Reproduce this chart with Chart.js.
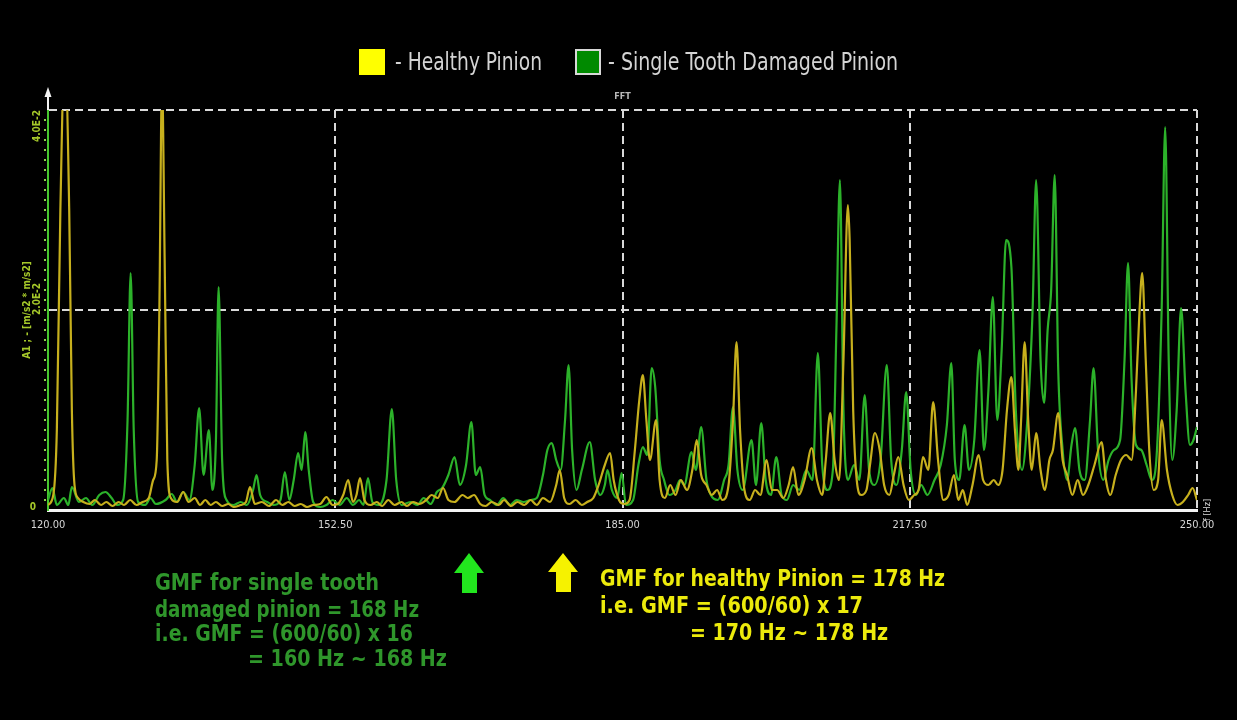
<!DOCTYPE html>
<html>
<head>
<meta charset="utf-8">
<title>FFT - Healthy vs Single Tooth Damaged Pinion</title>
<script src="https://cdn.jsdelivr.net/npm/chart.js@4.4.1/dist/chart.umd.min.js"></script>
<style>
  html, body { margin: 0; padding: 0; background: #000; }
  #wrap { position: relative; width: 1237px; height: 720px; background: #000; overflow: hidden; }
  #wrap canvas { position: absolute; left: 0; top: 0; }
  .narrow { font-family: 'Liberation Sans Narrow', 'DejaVu Sans Condensed', 'Roboto', sans-serif; }
  .lg-box { position: absolute; top: 49px; width: 26px; height: 26px; box-sizing: border-box; }
  .lg-txt { position: absolute; top: 49px; height: 26px; line-height: 26px; font-size: 25px; color: #d4d4d4;
            white-space: nowrap; transform-origin: 0 50%; }
  .note { position: absolute; height: 26px; line-height: 26px; font-size: 23px; font-weight: bold;
          white-space: nowrap; transform-origin: 0 50%; }
  .green { color: #2f962b; }
  .yellow { color: #ecea0c; }
  svg.arrows { position: absolute; left: 0; top: 0; }
</style>
</head>
<body>
<div id="wrap">
  <canvas id="fft" width="1237" height="720"></canvas>

  <!-- legend -->
  <div class="lg-box" style="left:359px;background:#ffff00;"></div>
  <div class="lg-txt narrow" data-w="147" style="left:395px;">- Healthy Pinion</div>
  <div class="lg-box" style="left:575px;background:#008a00;border:2px solid #d8d8d8;"></div>
  <div class="lg-txt narrow" data-w="290" style="left:608px;">- Single Tooth Damaged Pinion</div>

  <!-- gear-mesh-frequency arrows -->
  <svg class="arrows" width="1237" height="720">
    <polygon points="469,553 484,573 477,573 477,593 462,593 462,573 454,573" fill="#22e61e"/>
    <polygon points="563,553 578,572 571,572 571,592 556,592 556,572 548,572" fill="#f6f200"/>
  </svg>

  <!-- notes -->
  <div class="note narrow green" data-w="224" style="left:155px;top:569px;">GMF for single tooth</div>
  <div class="note narrow green" data-w="264" style="left:155px;top:596px;">damaged pinion = 168 Hz</div>
  <div class="note narrow green" data-w="258" style="left:155px;top:620px;">i.e. GMF = (600/60) x 16</div>
  <div class="note narrow green" data-w="199" style="left:248px;top:645px;">= 160 Hz ~ 168 Hz</div>

  <div class="note narrow yellow" data-w="345" style="left:600px;top:565px;">GMF for healthy Pinion = 178 Hz</div>
  <div class="note narrow yellow" data-w="263" style="left:600px;top:592px;">i.e. GMF = (600/60) x 17</div>
  <div class="note narrow yellow" data-w="198" style="left:690px;top:619px;">= 170 Hz ~ 178 Hz</div>
</div>

<script>
// Spectrum of the healthy pinion: frequency [Hz] and amplitude [x1E-2 (m/s2)^2]
const healthyHz = [
  120.0, 120.6, 121.0, 121.4, 121.9, 122.4, 122.7, 123.0, 123.4, 124.0,
  124.7, 125.3, 126.0, 126.6, 127.3, 128.0, 128.6, 129.3, 130.0, 130.7,
  131.4, 131.9, 132.3, 132.6, 132.9, 133.2, 133.5, 133.9, 134.6, 135.3,
  135.9, 136.6, 137.2, 137.8, 138.4, 139.0, 139.7, 140.4, 141.0, 141.8,
  142.4, 142.85, 143.4, 144.2, 145.0, 145.8, 146.5, 147.2, 147.9, 148.6,
  149.3, 150.0, 150.8, 151.5, 152.2, 152.8, 153.4, 153.97, 154.5, 154.9,
  155.3, 155.8, 156.5, 157.2, 157.8, 158.5, 159.2, 160.0, 160.6, 161.3,
  162.0, 162.8, 163.4, 164.1, 164.7, 165.3, 166.0, 166.9, 167.5, 168.2,
  168.9, 169.5, 170.2, 171.0, 171.6, 172.4, 173.1, 173.9, 174.6, 175.3,
  176.0, 176.8, 177.5, 177.9, 178.4, 179.0, 179.7, 180.4, 181.0, 181.7,
  182.3, 183.0, 183.6, 184.0, 184.6, 185.2, 185.8, 186.4, 186.9, 187.3,
  187.7, 188.1, 188.8, 189.2, 189.8, 190.4, 191.0, 191.6, 192.3, 192.9,
  193.4, 193.9, 194.5, 195.1, 195.7, 196.3, 197.0, 197.5, 197.9, 198.3,
  198.8, 199.4, 200.0, 200.6, 201.3, 201.9, 202.5, 203.2, 203.8, 204.3,
  204.9, 205.6, 206.4, 207.0, 207.6, 208.0, 208.5, 209.0, 209.5, 210.0,
  210.5, 210.7, 211.1, 211.5, 212.0, 212.6, 213.0, 213.55, 214.1, 214.6,
  215.2, 215.7, 216.2, 216.8, 217.4, 218.0, 218.5, 219.0, 219.6, 220.15,
  220.7, 221.3, 221.9, 222.5, 223.0, 223.5, 224.0, 224.6, 225.3, 225.8,
  226.4, 227.0, 227.5, 228.0, 228.5, 229.0, 229.4, 229.8, 230.1, 230.5,
  230.9, 231.3, 231.8, 232.3, 232.8, 233.3, 233.7, 234.3, 234.8, 235.3,
  235.9, 236.5, 237.1, 237.7, 238.4, 239.2, 239.7, 240.2, 240.8, 241.4,
  242.0, 242.6, 243.1, 243.5, 243.8, 244.2, 244.6, 245.1, 245.6, 246.0,
  246.6, 247.2, 247.8, 248.4, 249.0, 249.5, 250.0
];
const healthyAmp = [
  0.05, 0.15, 0.80, 3.00, 4.60, 3.00, 1.00, 0.25, 0.12, 0.08,
  0.06, 0.10, 0.05, 0.08, 0.04, 0.08, 0.05, 0.10, 0.05, 0.08,
  0.12, 0.30, 0.50, 2.00, 4.30, 2.50, 0.50, 0.12, 0.08, 0.18,
  0.08, 0.12, 0.05, 0.10, 0.05, 0.08, 0.04, 0.06, 0.03, 0.05,
  0.08, 0.23, 0.06, 0.08, 0.04, 0.10, 0.05, 0.08, 0.04, 0.06,
  0.03, 0.05, 0.06, 0.13, 0.05, 0.06, 0.15, 0.30, 0.08, 0.15,
  0.32, 0.10, 0.05, 0.08, 0.04, 0.10, 0.05, 0.08, 0.04, 0.08,
  0.06, 0.10, 0.15, 0.12, 0.22, 0.10, 0.08, 0.15, 0.12, 0.15,
  0.06, 0.04, 0.08, 0.05, 0.10, 0.04, 0.08, 0.05, 0.10, 0.05,
  0.12, 0.08, 0.25, 0.40, 0.12, 0.06, 0.10, 0.05, 0.08, 0.12,
  0.25, 0.45, 0.57, 0.30, 0.10, 0.06, 0.10, 0.60, 1.10, 1.35,
  0.90, 0.50, 0.90, 0.30, 0.12, 0.25, 0.15, 0.30, 0.20, 0.40,
  0.70, 0.35, 0.25, 0.15, 0.20, 0.10, 0.25, 0.90, 1.68, 0.80,
  0.20, 0.10, 0.20, 0.15, 0.50, 0.20, 0.20, 0.12, 0.25, 0.43,
  0.15, 0.30, 0.62, 0.30, 0.15, 0.50, 0.97, 0.50, 0.30, 1.50,
  3.05, 2.70, 1.00, 0.30, 0.15, 0.20, 0.45, 0.77, 0.60, 0.25,
  0.15, 0.35, 0.53, 0.25, 0.10, 0.15, 0.20, 0.53, 0.40, 1.08,
  0.50, 0.10, 0.15, 0.35, 0.10, 0.20, 0.05, 0.25, 0.55, 0.30,
  0.25, 0.30, 0.25, 0.40, 1.00, 1.33, 0.80, 0.40, 0.90, 1.68,
  0.90, 0.40, 0.77, 0.40, 0.20, 0.50, 0.60, 0.97, 0.50, 0.35,
  0.15, 0.30, 0.15, 0.25, 0.45, 0.68, 0.30, 0.15, 0.35, 0.50,
  0.55, 0.50, 1.20, 2.00, 2.37, 1.50, 0.60, 0.20, 0.30, 0.90,
  0.40, 0.15, 0.05, 0.08, 0.15, 0.22, 0.10
];

// Spectrum of the pinion with a single damaged tooth
const damagedHz = [
  120.0, 120.5, 121.0, 121.8, 122.3, 122.7, 123.5, 124.3, 125.0, 125.8,
  126.5, 127.2, 127.8, 128.5, 129.0, 129.35, 129.7, 130.2, 131.0, 131.6,
  132.2, 133.3, 134.0, 134.6, 135.3, 136.0, 136.6, 137.1, 137.6, 138.2,
  138.6, 139.0, 139.3, 139.7, 140.2, 141.0, 141.8, 142.5, 143.2, 143.6,
  144.0, 144.8, 145.5, 146.3, 146.8, 147.3, 147.8, 148.3, 148.7, 149.1,
  149.5, 150.0, 150.8, 151.5, 152.2, 153.0, 153.8, 154.5, 155.2, 155.7,
  156.2, 156.7, 157.4, 158.3, 158.9, 159.4, 160.0, 161.0, 161.8, 162.5,
  163.3, 164.0, 164.6, 165.3, 166.0, 166.6, 167.3, 167.9, 168.4, 168.9,
  169.4, 170.0, 170.8, 171.5, 172.3, 173.0, 173.8, 174.6, 175.3, 176.0,
  176.5, 177.0, 177.5, 178.0, 178.5, 178.9, 179.3, 179.8, 180.4, 181.3,
  181.9, 182.5, 183.0, 183.3, 183.8, 184.4, 184.9, 185.4, 186.2, 186.8,
  187.3, 187.8, 188.3, 188.7, 189.2, 189.7, 190.3, 191.0, 191.5, 192.0,
  192.8, 193.3, 193.9, 194.5, 195.0, 195.8, 196.5, 197.0, 197.5, 198.0,
  198.6, 199.6, 200.1, 200.7, 201.2, 201.8, 202.4, 203.0, 203.6, 204.3,
  205.0, 205.8, 206.5, 207.1, 207.6, 208.2, 208.8, 209.2, 209.6, 210.0,
  210.5, 211.2, 211.8, 212.4, 212.9, 213.5, 214.2, 214.9, 215.4, 216.0,
  216.6, 217.1, 217.6, 218.2, 218.8, 219.5, 220.3, 221.0, 221.7, 222.2,
  222.6, 223.1, 223.7, 224.2, 224.8, 225.4, 225.9, 226.4, 226.9, 227.4,
  227.9, 228.4, 229.0, 229.5, 230.2, 230.8, 231.4, 231.8, 232.3, 232.7,
  233.1, 233.5, 233.9, 234.3, 234.8, 235.3, 235.8, 236.2, 236.7, 237.3,
  237.9, 238.3, 238.8, 239.4, 240.0, 240.6, 241.3, 241.8, 242.2, 242.6,
  243.1, 243.7, 244.3, 244.9, 245.4, 246.0, 246.4, 246.8, 247.2, 247.7,
  248.2, 248.7, 249.2, 249.6, 250.0
];
const damagedAmp = [
  0.10, 0.22, 0.05, 0.12, 0.05, 0.23, 0.08, 0.12, 0.05, 0.15,
  0.18, 0.12, 0.05, 0.10, 0.90, 2.37, 0.80, 0.08, 0.05, 0.12,
  0.06, 0.10, 0.16, 0.08, 0.18, 0.10, 0.45, 1.02, 0.35, 0.80,
  0.20, 0.70, 2.23, 0.50, 0.10, 0.05, 0.08, 0.05, 0.20, 0.35,
  0.15, 0.08, 0.05, 0.10, 0.38, 0.10, 0.30, 0.57, 0.40, 0.78,
  0.40, 0.08, 0.03, 0.05, 0.10, 0.05, 0.12, 0.05, 0.10, 0.05,
  0.32, 0.08, 0.05, 0.30, 1.01, 0.30, 0.05, 0.08, 0.05, 0.12,
  0.06, 0.18, 0.22, 0.35, 0.53, 0.25, 0.45, 0.88, 0.35, 0.43,
  0.15, 0.10, 0.05, 0.12, 0.05, 0.10, 0.08, 0.10, 0.12, 0.35,
  0.60, 0.67, 0.50, 0.40, 0.90, 1.45, 0.60, 0.20, 0.40, 0.68,
  0.30, 0.15, 0.25, 0.40, 0.20, 0.12, 0.37, 0.05, 0.10, 0.45,
  0.63, 0.55, 1.42, 1.23, 0.50, 0.30, 0.15, 0.20, 0.30, 0.25,
  0.58, 0.40, 0.83, 0.30, 0.15, 0.10, 0.30, 0.45, 1.03, 0.40,
  0.20, 0.70, 0.25, 0.87, 0.30, 0.15, 0.53, 0.15, 0.10, 0.25,
  0.20, 0.40, 0.30, 1.57, 0.45, 0.20, 0.40, 1.80, 3.30, 1.00,
  0.30, 0.45, 0.30, 1.15, 0.40, 0.25, 0.50, 1.45, 0.50, 0.25,
  0.60, 1.18, 0.40, 0.15, 0.25, 0.15, 0.30, 0.45, 0.85, 1.47,
  0.50, 0.30, 0.85, 0.40, 0.70, 1.60, 0.60, 1.20, 2.13, 0.90,
  1.60, 2.70, 2.43, 1.00, 0.40, 0.90, 2.00, 3.30, 1.50, 1.07,
  1.80, 2.20, 3.35, 1.40, 0.60, 0.30, 0.65, 0.82, 0.40, 0.30,
  0.90, 1.42, 0.60, 0.30, 0.50, 0.60, 0.70, 1.50, 2.47, 1.30,
  0.65, 0.60, 0.45, 0.30, 0.50, 2.00, 3.83, 1.50, 0.50, 1.00,
  2.02, 1.20, 0.65, 0.70, 0.83
];

// Axis ticks
const freqTicks = [120, 152.5, 185, 217.5, 250];
const ampTicks = [0, 2, 4];
const ampMinorStep = 0.1;

const NARROW = "'Liberation Sans Narrow', 'DejaVu Sans Condensed', 'Roboto', sans-serif";
const GRID = '#d9d9d9';
const AXIS_TEXT = '#a6c92a';

const toPoints = (hz, amp) => hz.map((f, i) => ({ x: f, y: amp[i] }));

// Rotated y labels, minor ticks, axis arrow and frequency unit
const decorations = {
  id: 'decorations',
  afterDraw(chart) {
    const { ctx, chartArea: a, scales: { x, y } } = chart;
    ctx.save();

    // minor tick dots along the amplitude axis
    ctx.fillStyle = '#8fd44a';
    const nMinor = Math.round((y.max - y.min) / ampMinorStep);
    for (let k = 1; k < nMinor; k++) {
      const py = Math.round(y.getPixelForValue(y.min + k * ampMinorStep));
      ctx.fillRect(a.left - 4, py - 1, 2, 2);
    }

    // arrow head on top of the amplitude axis
    ctx.strokeStyle = '#f2f2f2';
    ctx.lineWidth = 2;
    ctx.beginPath();
    ctx.moveTo(a.left, a.top);
    ctx.lineTo(a.left, a.top - 16);
    ctx.stroke();
    ctx.fillStyle = '#f2f2f2';
    ctx.beginPath();
    ctx.moveTo(a.left, a.top - 23);
    ctx.lineTo(a.left + 3.5, a.top - 13);
    ctx.lineTo(a.left - 3.5, a.top - 13);
    ctx.closePath();
    ctx.fill();

    // amplitude tick labels (rotated like the analyser display)
    ctx.font = 'bold 10px ' + NARROW;
    ctx.fillStyle = AXIS_TEXT;
    ctx.textBaseline = 'middle';
    ampTicks.forEach(v => {
      const py = y.getPixelForValue(v);
      if (v === 0) {
        ctx.textAlign = 'center';
        ctx.fillText('0', a.left - 15, py - 3);
        return;
      }
      const label = v.toFixed(1) + 'E-2';
      ctx.save();
      if (v === y.max) {
        ctx.translate(a.left - 11, py);
        ctx.rotate(-Math.PI / 2);
        ctx.textAlign = 'right';
      } else {
        ctx.translate(a.left - 11, py - 11);
        ctx.rotate(-Math.PI / 2);
        ctx.textAlign = 'center';
      }
      ctx.fillText(label, 0, 0);
      ctx.restore();
    });

    // frequency unit at the end of the x axis
    ctx.save();
    ctx.font = '9px ' + NARROW;
    ctx.fillStyle = '#d8d8d8';
    ctx.translate(a.right + 11, a.bottom);
    ctx.rotate(-Math.PI / 2);
    ctx.textAlign = 'center';
    ctx.textBaseline = 'middle';
    ctx.fillText('f [Hz]', 0, 0);
    ctx.restore();

    ctx.restore();
  }
};

new Chart(document.getElementById('fft'), {
  type: 'line',
  data: {
    datasets: [
      {
        label: 'Healthy Pinion',
        data: toPoints(healthyHz, healthyAmp),
        borderColor: '#c7b01d',
        borderWidth: 2.2,
        pointRadius: 0,
        cubicInterpolationMode: 'monotone'
      },
      {
        label: 'Single Tooth Damaged Pinion',
        data: toPoints(damagedHz, damagedAmp),
        borderColor: '#2cb22a',
        borderWidth: 2.2,
        pointRadius: 0,
        cubicInterpolationMode: 'monotone'
      }
    ]
  },
  options: {
    responsive: false,
    animation: false,
    events: [],
    layout: { padding: { left: 0, right: 40, top: 0, bottom: 180 } },
    plugins: {
      legend: { display: false },
      tooltip: { enabled: false },
      title: {
        display: true,
        text: 'FFT',
        fullSize: false,
        color: '#b8b8b8',
        font: { family: NARROW, size: 9 },
        padding: { top: 91.6, bottom: 7.6 }
      }
    },
    scales: {
      x: {
        type: 'linear',
        min: freqTicks[0],
        max: freqTicks[freqTicks.length - 1],
        afterBuildTicks: s => { s.ticks = freqTicks.map(v => ({ value: v })); },
        afterFit: s => { s.height = 30; },
        ticks: {
          callback: v => Number(v).toFixed(2),
          color: '#d6d6d6',
          font: { family: NARROW, size: 11 },
          padding: 9,
          maxRotation: 0,
          autoSkip: false
        },
        grid: {
          color: c => (c.tick && c.tick.value === freqTicks[0]) ? 'rgba(0,0,0,0)' : GRID,
          lineWidth: 2,
          drawTicks: false
        },
        border: { display: true, color: '#f4f4f4', width: 3, dash: [8, 5] }
      },
      y: {
        type: 'linear',
        min: ampTicks[0],
        max: ampTicks[ampTicks.length - 1],
        afterBuildTicks: s => { s.ticks = ampTicks.map(v => ({ value: v })); },
        afterFit: s => { s.width = 48; },
        ticks: { display: false },
        title: {
          display: true,
          text: 'A1 ; - [m/s2 * m/s2]',
          color: AXIS_TEXT,
          font: { family: NARROW, size: 10, weight: 'bold' },
          padding: { top: 21, bottom: 0 }
        },
        grid: {
          color: c => (c.tick && c.tick.value === ampTicks[0]) ? 'rgba(0,0,0,0)' : GRID,
          lineWidth: 2,
          drawTicks: false
        },
        border: { display: true, color: '#46c82e', width: 2, dash: [8, 5] }
      }
    }
  },
  plugins: [decorations]
});

// squeeze the condensed captions to their drawn widths
document.querySelectorAll('[data-w]').forEach(el => {
  const w = el.getBoundingClientRect().width;
  const target = parseFloat(el.dataset.w);
  if (w > 0) el.style.transform = 'scaleX(' + (target / w).toFixed(3) + ')';
});
</script>
</body>
</html>
